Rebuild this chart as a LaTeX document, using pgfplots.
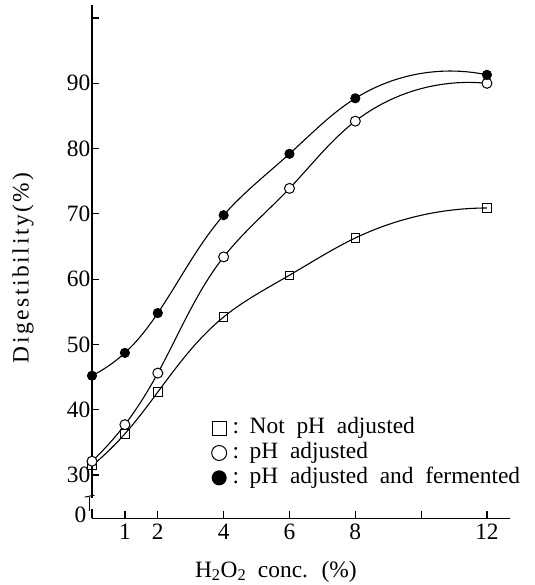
\documentclass[border=0pt]{standalone}
\usepackage{fontspec}
\setmainfont{Liberation Serif}
\usepackage{pgfplots}
\pgfplotsset{compat=1.18}
\usetikzlibrary{hobby}
\begin{document}
\fontsize{23.5}{28}\selectfont
\begin{tikzpicture}
\begin{axis}[
  name=ax,
  scale only axis,
  width=418bp, height=513bp,
  xmin=0, xmax=12.7,
  ymin=23.4, ymax=102,
  axis lines=left,
  axis line style={-},
  y axis line style={line width=1.8bp},
  x axis line style={line width=1bp},
  tick align=inside,
  major tick length=7bp,
  tick style={line width=1.2bp, black},
  xtick={1,2,4,6,8,10,12},
  xticklabels={1,2,4,6,8,,12},
  ytick={30,40,...,100},
  yticklabels={30,40,50,60,70,80,90,},
  extra y ticks={23.4},
  extra y tick labels={0},
  extra y tick style={major tick length=0pt, yticklabel style={xshift=-4bp, yshift=3bp}},
  /pgf/number format/assume math mode=true,
  every tick label/.append style={inner sep=1.5bp},
  xticklabel style={yshift=-4bp},
  xlabel={H\textsubscript{2}O\textsubscript{2} conc. (\%)},
  ylabel={\addfontfeature{LetterSpace=11}Digestibility(\%)},
  xlabel style={at={(axis description cs:0.44,0)}, anchor=base, yshift=-59bp,
    font={\spaceskip=0.5em\relax}},
  ylabel style={at={(axis description cs:-0.1388,0.488)}, anchor=south, inner sep=0pt},
  clip=false,
  legend cell align=left,
  legend style={draw=none, fill=none, at={(axis cs:3.63,39.0)}, anchor=north west,
    row sep=1.3bp, inner sep=0pt,
    nodes={inner sep=1bp, text height=0.7em, text depth=0.22em, font={\spaceskip=0.5em\relax}}},
]
\addlegendimage{only marks, mark=square, mark size=7bp, mark options={line width=1bp, fill=white}}
\addlegendentry{\hspace{5bp}:\hspace{0.45em}Not pH adjusted}
\addlegendimage{only marks, mark=*, mark size=7.5bp, mark options={line width=1bp, fill=white}}
\addlegendentry{\hspace{5bp}:\hspace{0.45em}pH adjusted}
\addlegendimage{only marks, mark=*, mark size=7bp, mark options={line width=1bp, fill=black}}
\addlegendentry{\hspace{5bp}:\hspace{0.45em}pH adjusted and fermented}

% not pH adjusted
\addplot[forget plot, hobby, line width=1.1bp, mark=square, mark size=4.2bp,
  mark options={fill=white, line width=1bp}] coordinates {
(0,31.4) (1,36.3) (2,42.7) (4,54.2) (6,60.6) (8,66.3) (12,70.9)
};
% pH adjusted
\addplot[forget plot, hobby, line width=1.1bp, mark=*, mark size=5bp,
  mark options={fill=white, line width=1bp}] coordinates {
(0,32.1) (1,37.7) (2,45.6) (4,63.4) (6,73.9) (8,84.2) (12,90.0)
};
% pH adjusted and fermented
\addplot[forget plot, hobby, line width=1.1bp, mark=*, mark size=4.5bp,
  mark options={fill=black}] coordinates {
(0,45.2) (1,48.7) (2,54.8) (4,69.8) (6,79.2) (8,87.7) (12,91.3)
};

% axis break
\draw[white, line width=4bp] (axis cs:0,24.8) -- (axis cs:0,26.4);
\draw[line width=1bp] (axis cs:-0.22,26.6) -- (axis cs:0.08,26.9);
\draw[line width=1bp] (axis cs:-0.08,24.5) -- (axis cs:-0.08,26.6);
\end{axis}
\pgfresetboundingbox
\path[use as bounding box] ([xshift=-92bp,yshift=-67bp]ax.south west) rectangle ([xshift=25bp,yshift=5bp]ax.north east);
\end{tikzpicture}
\end{document}
